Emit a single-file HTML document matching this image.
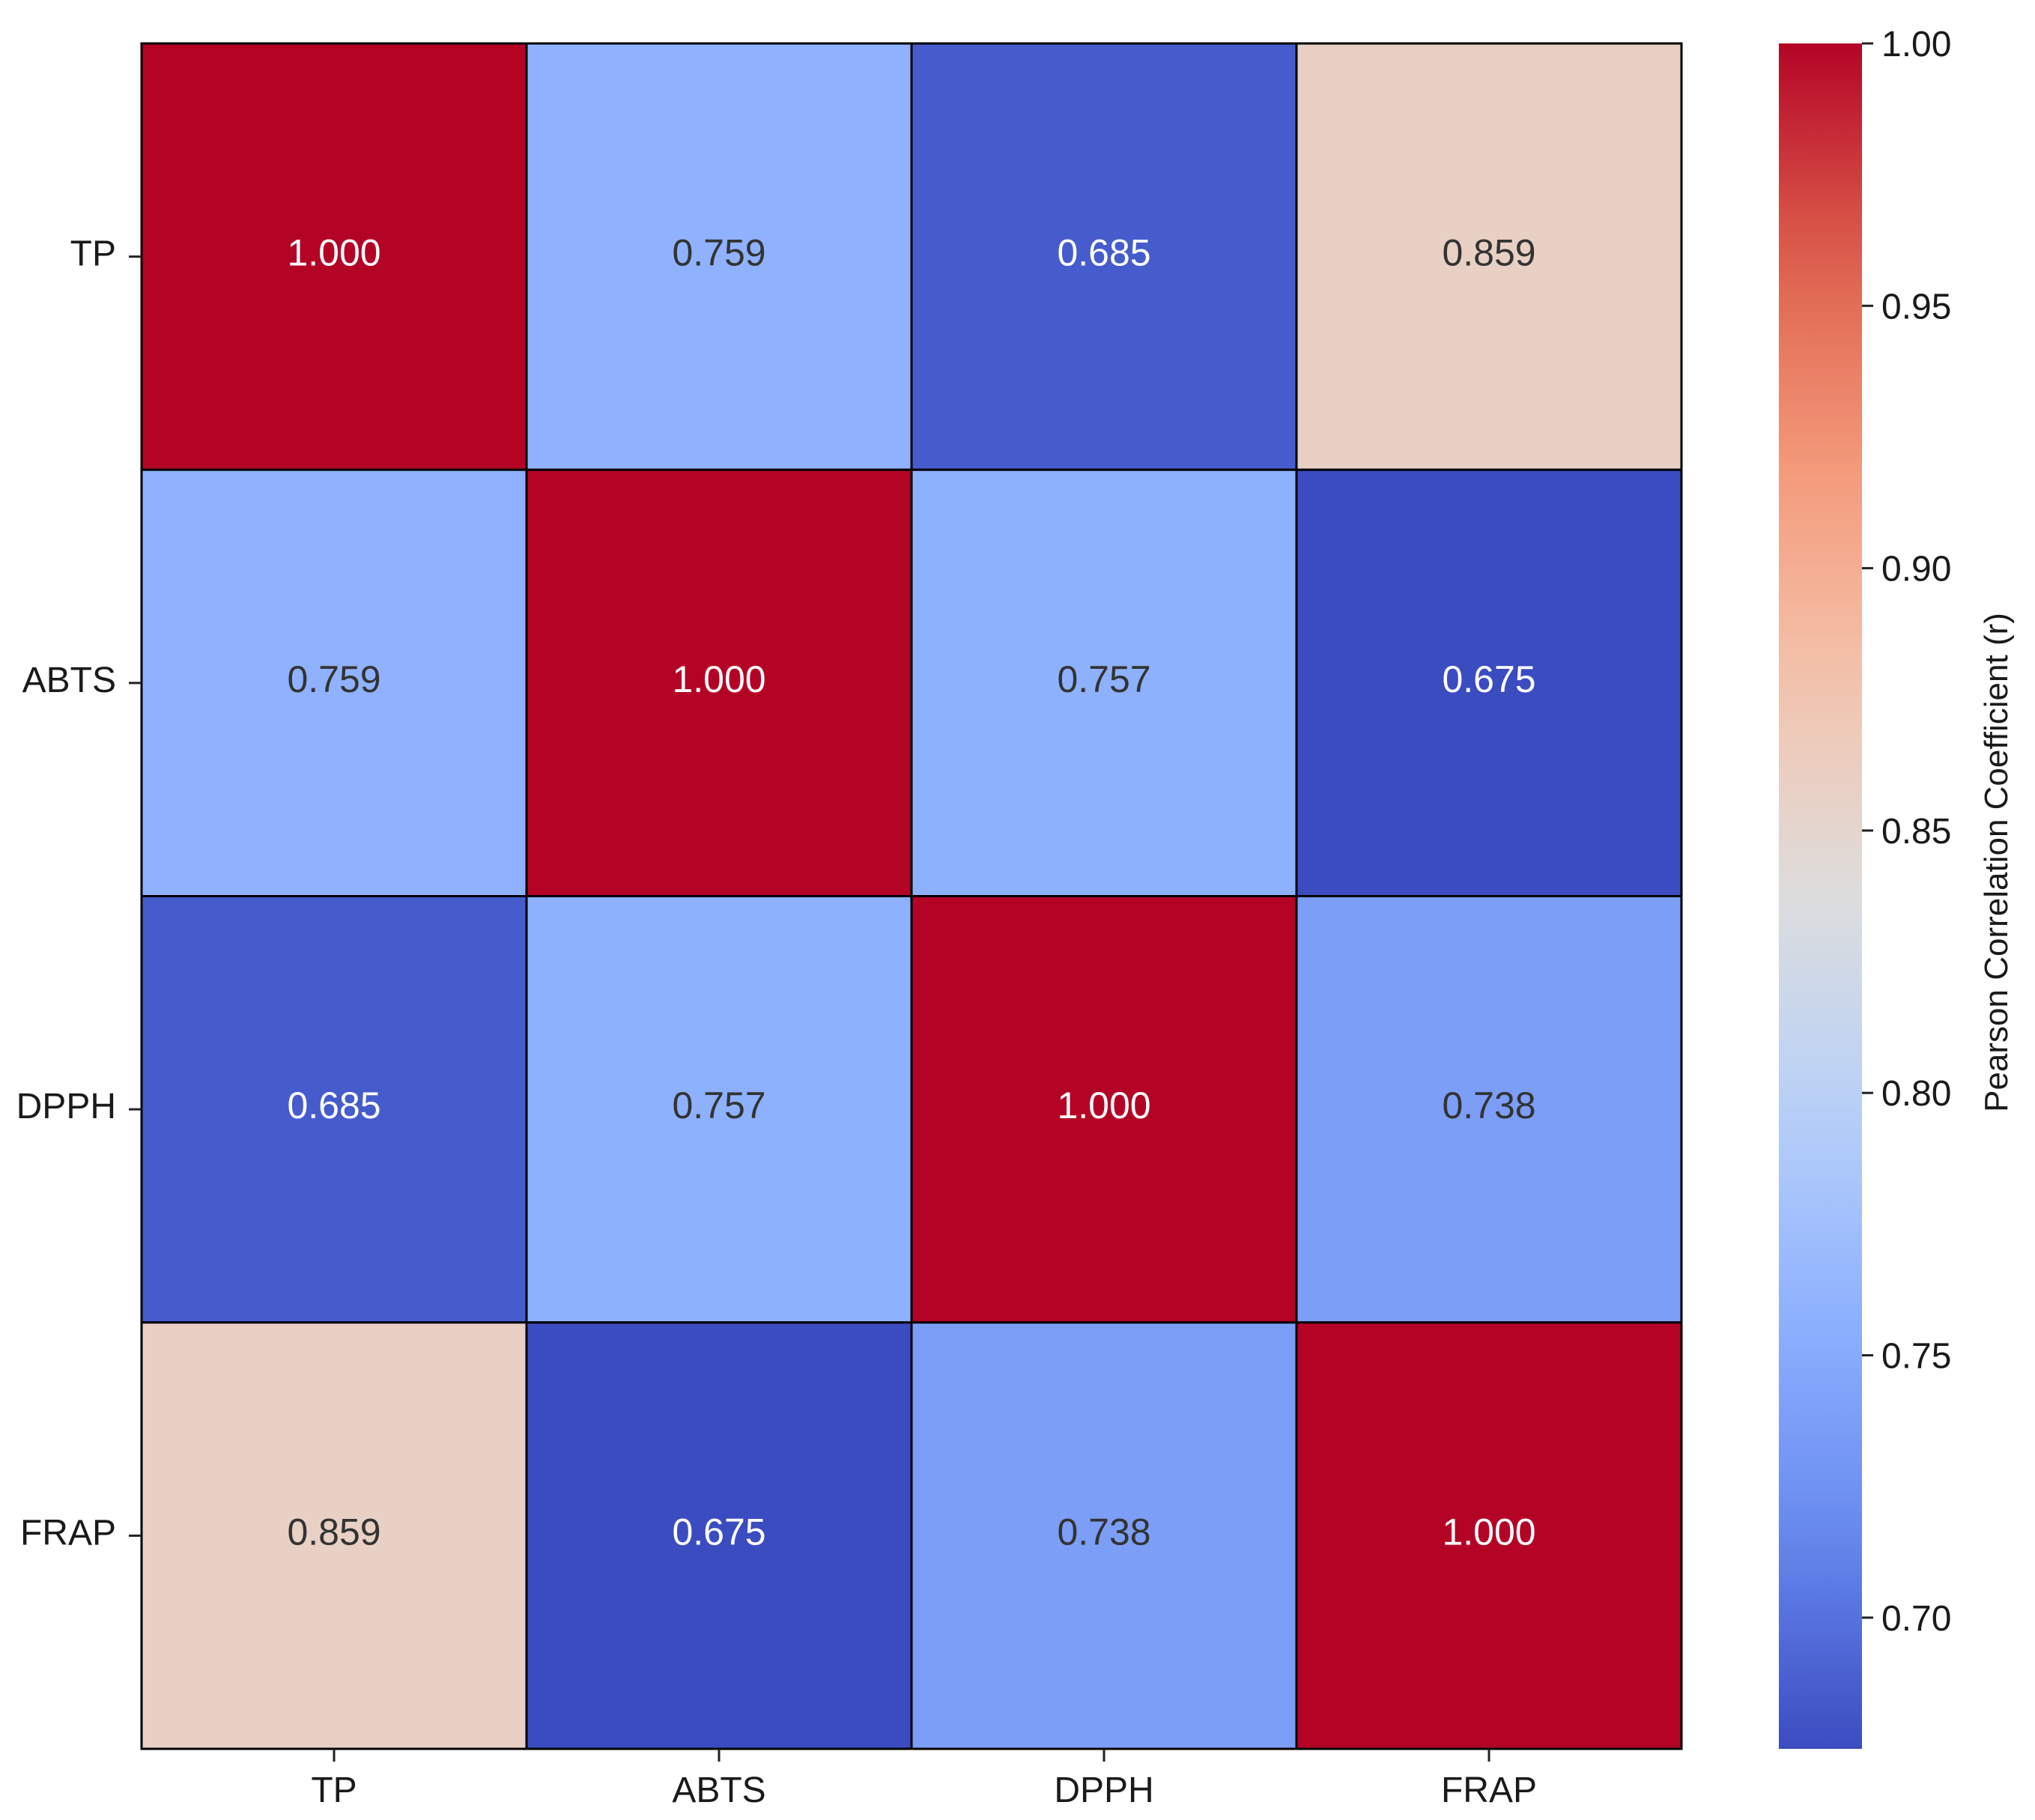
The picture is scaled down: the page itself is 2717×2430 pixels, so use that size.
<!DOCTYPE html>
<html><head><meta charset="utf-8"><style>
html,body{margin:0;padding:0;background:#fff}
svg{display:block}
text{font-family:"Liberation Sans",sans-serif;fill:#1a1a1a}
</style></head><body>
<svg id="chart" width="2717" height="2430" viewBox="0 0 2717 2430" xmlns="http://www.w3.org/2000/svg">
<defs><linearGradient id="cbgrad" x1="0" y1="1" x2="0" y2="0"></linearGradient></defs>
<g id="cells"></g>
<g id="yaxis"></g>
<g id="xaxis"></g>
<g id="cbar"></g>
</svg>
<script>
const categories = ["TP","ABTS","DPPH","FRAP"];
const rowTP   = [1.000,0.759,0.685,0.859];
const rowABTS = [0.759,1.000,0.757,0.675];
const rowDPPH = [0.685,0.757,1.000,0.738];
const rowFRAP = [0.859,0.675,0.738,1.000];
const cbTicks = [0.70,0.75,0.80,0.85,0.90,0.95,1.00];
const vmin = 0.675, vmax = 1.0;
const rows = [rowTP,rowABTS,rowDPPH,rowFRAP];

const NS="http://www.w3.org/2000/svg";
const L=189,R=2245,T=58,B=2335;
const cw=(R-L)/categories.length, ch=(B-T)/categories.length;
const xPos=i=>L+i*cw, yPos=i=>T+i*ch;
const CBL=2375,CBR=2486;
const cbY=v=>B-(v-vmin)/(vmax-vmin)*(B-T);

const stops=[[0,[59,76,192]],[0.125,[103,137,239]],[0.25,[141,176,254]],[0.375,[184,208,249]],[0.5,[221,221,221]],[0.625,[244,196,173]],[0.75,[244,154,123]],[0.875,[222,96,77]],[1,[180,4,38]]];
function cmap(t){t=Math.max(0,Math.min(1,t));for(let i=1;i<stops.length;i++){if(t<=stops[i][0]){const a=stops[i-1],b=stops[i];const f=(t-a[0])/(b[0]-a[0]);return a[1].map((c,k)=>Math.round(c+(b[1][k]-c)*f));}}return stops[stops.length-1][1];}
function mk(tag,attrs,parent){const e=document.createElementNS(NS,tag);for(const k in attrs)e.setAttribute(k,attrs[k]);parent.appendChild(e);return e;}

const gC=document.getElementById('cells');
rows.forEach((row,r)=>row.forEach((v,c)=>{
  const col=cmap((v-vmin)/(vmax-vmin));
  const rect=mk('rect',{x:xPos(c),y:yPos(r),width:cw,height:ch,fill:`rgb(${col})`,stroke:'#000','stroke-width':3},gC);
  
  
  const lum=(0.299*col[0]+0.587*col[1]+0.114*col[2])/255;
  const t=mk('text',{x:xPos(c)+cw/2,y:yPos(r)+ch/2+12,'text-anchor':'middle','font-size':50},gC);
  t.style.fill=lum>0.55?'#333':'#fff';
  t.textContent=v.toFixed(3);
  
  
}));
mk('rect',{x:L,y:T,width:R-L,height:B-T,fill:'none',stroke:'#000','stroke-width':3},gC);

const gY=document.getElementById('yaxis'),gX=document.getElementById('xaxis');
categories.forEach((c,i)=>{
  const yc=yPos(i)+ch/2;
  mk('line',{x1:L-17,x2:L,y1:yc,y2:yc,stroke:'#222','stroke-width':3},gY);
  const t=mk('text',{x:L-34,y:yc+12,'text-anchor':'end','font-size':48},gY);
  t.textContent=c;
  
  
  const xc=xPos(i)+cw/2;
  mk('line',{x1:xc,x2:xc,y1:B,y2:B+17,stroke:'#222','stroke-width':3},gX);
  const u=mk('text',{x:xc,y:B+71,'text-anchor':'middle','font-size':48},gX);
  u.textContent=c;
  
  
});

const grad=document.getElementById('cbgrad');
for(let i=0;i<=20;i++){const t=i/20;mk('stop',{offset:t,'stop-color':`rgb(${cmap(t)})`},grad);}
const gB=document.getElementById('cbar');
const bar=mk('rect',{x:CBL,y:T,width:CBR-CBL,height:B-T,fill:'url(#cbgrad)'},gB);


cbTicks.forEach(v=>{
  const y=cbY(v);
  mk('line',{x1:CBR,x2:CBR+15,y1:y,y2:y,stroke:'#222','stroke-width':3},gB);
  const t=mk('text',{x:CBR+26,y:y+17,'font-size':48},gB);
  t.textContent=v.toFixed(2);
  
  
});
const lab=mk('text',{x:0,y:0,'text-anchor':'middle','font-size':44,transform:`translate(2680,${(T+B)/2-45}) rotate(-90)`},gB);
lab.textContent='Pearson Correlation Coefficient (r)';


</script>
</body></html>
